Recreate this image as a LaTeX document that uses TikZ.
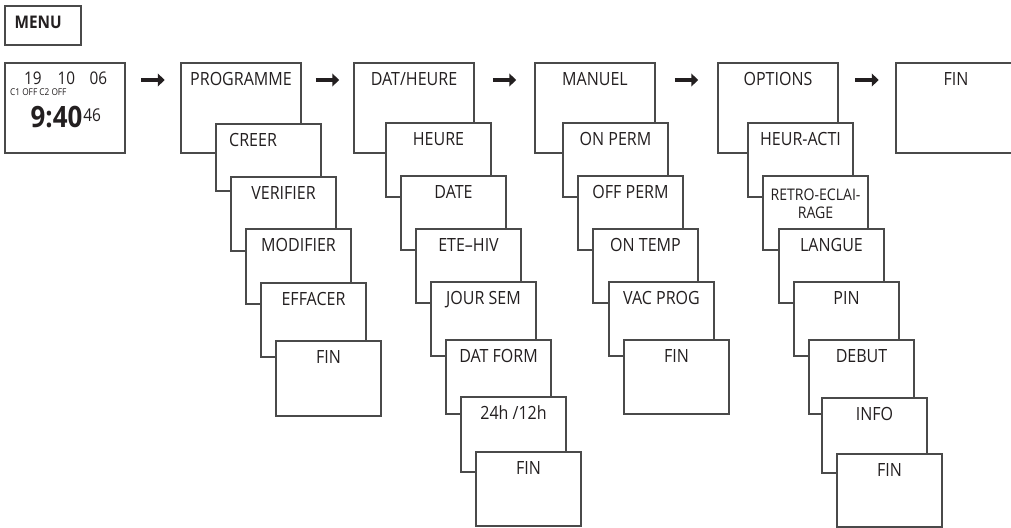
\documentclass[tikz,border=0pt]{standalone}
\usepackage{fontspec}
\setmainfont{Open Sans}[FakeStretch=0.88]
\usetikzlibrary{arrows.meta,calc}
\definecolor{linec}{HTML}{4A4A4A}
\definecolor{txtc}{HTML}{231F20}
\newcommand{\labsize}{\fontsize{18.2pt}{20pt}\selectfont}
\newcommand{\smlabsize}{\fontsize{16pt}{18pt}\selectfont}
\begin{document}
\begin{tikzpicture}[x=1pt,y=-1pt,
  box/.style={draw=linec, fill=white, line width=1.2pt, anchor=north west,
    inner sep=0pt, outer sep=0pt, minimum width=105pt, minimum height=74pt},
  topbox/.style={box, minimum width=120pt, minimum height=90pt},
  lbl/.style={anchor=base, yshift=-22.5pt, inner sep=0pt, font=\labsize, text=txtc},
  txt/.style={anchor=base west, inner sep=0pt, text=txtc},
  bigarrow/.style={draw=txtc, line width=4.4pt, -{Triangle[length=7pt,width=12.7pt]}}]
\clip (0,0) rectangle (1011,527);
\fill[white] (0,0) rectangle (1011,527);

% MENU
\node[box, minimum width=76pt, minimum height=39pt,
  label={[txt, xshift=9.4pt, yshift=-22.3pt, font=\fontsize{17.4pt}{18pt}\selectfont\bfseries]north west:MENU}]
  (menu) at (5,6) {};

% clock display
\node[topbox] (clock) at (5,63) {};
\node[txt, font=\fontsize{17.4pt}{18pt}\selectfont] (d19) at ($(clock.north west)+(19,21.7)$) {19};
\node[txt, font=\fontsize{17.4pt}{18pt}\selectfont] (d10) at ($(clock.north west)+(52.3,21.7)$) {10};
\node[txt, font=\fontsize{17.4pt}{18pt}\selectfont] (d06) at ($(clock.north west)+(84.3,21.7)$) {06};
\node[txt, font=\fontsize{9.4pt}{10pt}\selectfont] (chan) at ($(clock.north west)+(5,32.7)$) {C1 OFF C2 OFF};
\node[txt, font=\fontsize{29.4pt}{30pt}\selectfont\bfseries] (time) at ($(clock.north west)+(25.5,64.3)$) {9:40};
\node[txt, font=\fontsize{17.6pt}{18pt}\selectfont] (sec) at ($(time.base east)+(0.6,-6)$) {46};

% PROGRAMME column
\node[topbox, label={[lbl]north:PROGRAMME}] (prog) at (181,63) {};
\node[box, minimum height=67pt, label={[txt, font=\labsize, xshift=13pt, yshift=-22.5pt]north west:CREER}] (creer) at (216,124) {};
\node[box, label={[lbl]north:VERIFIER}] (verif) at (231,177) {};
\node[box, minimum height=75pt, label={[lbl]north:MODIFIER}] (modif) at (246,229) {};
\node[box, label={[lbl]north:EFFACER}] (effac) at (261,283) {};
\node[box, minimum height=75pt, label={[lbl]north:FIN}] (finA) at (276,341) {};

% DAT/HEURE column
\node[topbox, label={[lbl]north:DAT/HEURE}] (dat) at (354,63) {};
\node[box, label={[lbl]north:HEURE}] (heure) at (386,123) {};
\node[box, label={[lbl]north:DATE}] (date) at (401,176) {};
\node[box, label={[lbl]north:ETE--HIV}] (ete) at (416,229) {};
\node[box, label={[lbl]north:JOUR SEM}] (jour) at (431,282) {};
\node[box, label={[lbl]north:DAT FORM}] (datform) at (446,340) {};
\node[box, minimum height=75pt, label={[lbl]north:24h /12h}] (h24) at (461,397) {};
\node[box, label={[lbl]north:FIN}] (finB) at (476,452) {};

% MANUEL column
\node[topbox, label={[lbl]north:MANUEL}] (man) at (535,63) {};
\node[box, label={[lbl]north:ON PERM}] (onperm) at (563,123) {};
\node[box, label={[lbl]north:OFF PERM}] (offperm) at (578,176) {};
\node[box, label={[lbl]north:ON TEMP}] (ontemp) at (593,229) {};
\node[box, label={[lbl]north:VAC PROG}] (vac) at (609,282) {};
\node[box, label={[lbl]north:FIN}] (finC) at (624,340) {};

% OPTIONS column
\node[topbox, label={[lbl]north:OPTIONS}] (opt) at (718,63) {};
\node[box, label={[lbl]north:HEUR-ACTI}] (heuract) at (748,123) {};
\node[box, label={[lbl, font=\smlabsize, align=center, yshift=-19.5pt]north:RETRO-ECLAI-\\RAGE}] (retro) at (763,176) {};
\node[box, label={[lbl]north:LANGUE}] (langue) at (779,229) {};
\node[box, label={[lbl]north:PIN}] (pin) at (794,282) {};
\node[box, label={[lbl]north:DEBUT}] (debut) at (809,340) {};
\node[box, minimum height=75pt, label={[lbl]north:INFO}] (info) at (822,398) {};
\node[box, minimum height=73pt, label={[lbl]north:FIN}] (finD) at (837,454) {};

% final FIN
\node[topbox, label={[lbl]north:FIN}] (finR) at (896,63) {};

% arrows
\foreach \a/\b in {clock/prog, prog/dat, dat/man, man/opt, opt/finR}{
  \draw[bigarrow] ($(\a.north east)!0.5!(\b.north west)+(-11.75,17)$) -- ($(\a.north east)!0.5!(\b.north west)+(11.75,17)$);
}
\end{tikzpicture}
\end{document}
